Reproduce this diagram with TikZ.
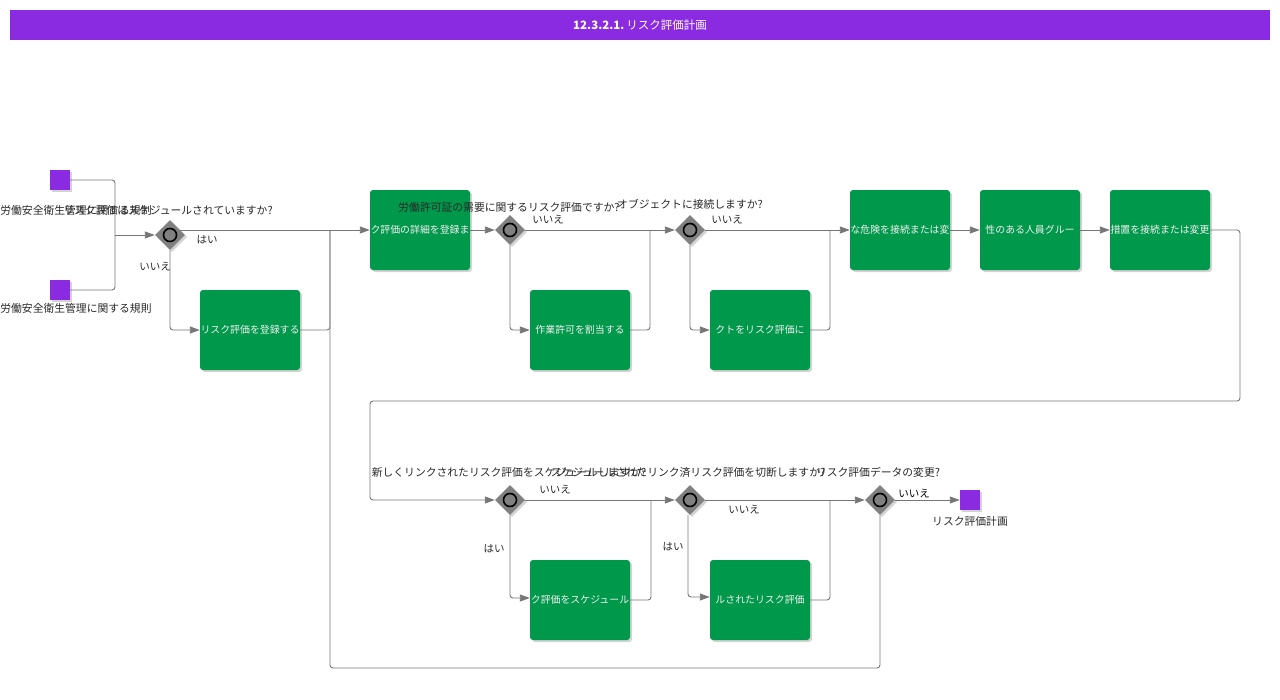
\documentclass[tikz,border=0pt]{standalone}
\usepackage{fontspec}
\setmainfont{Noto Sans CJK JP}
\usetikzlibrary{shapes.geometric,shadows,arrows.meta}

\definecolor{flowpurple}{RGB}{138,43,226}
\definecolor{taskgreen}{RGB}{0,152,74}
\definecolor{linegray}{RGB}{118,118,118}
\definecolor{labelgray}{RGB}{40,40,40}

\tikzset{
  softshadow/.style={drop shadow={shadow xshift=2pt,shadow yshift=-2pt,opacity=0.35}},
  task/.style={fill=taskgreen, rounded corners=3pt, minimum width=100pt, minimum height=80pt,
    inner sep=0pt, text=white!88!gray, font=\fontsize{9.9}{12}\selectfont, softshadow},
  evt/.style={fill=flowpurple, minimum size=20pt, inner sep=0pt, softshadow},
  gate/.style={diamond, fill=gray, minimum size=30pt, inner sep=0pt, softshadow},
  lbl/.style={text=labelgray, font=\fontsize{10.8}{12}\selectfont, inner sep=0pt},
  ans/.style={text=labelgray, font=\fontsize{10.5}{12}\selectfont, inner sep=0pt},
  line/.style={draw=linegray, line width=0.9pt, rounded corners=3pt},
  flow/.style={line, -{Triangle[length=10pt,width=7pt]}}
}

\begin{document}
\begin{tikzpicture}[x=1pt,y=-1pt]
  \useasboundingbox (0,0) rectangle (1280,699);
  \node[fill=flowpurple, minimum width=1260pt, minimum height=30pt, text=white,
    font=\fontsize{11.5}{13}\selectfont] (title) at (640,25) {\textbf{12.3.2.1.}\,リスク評価計画};

  % events
  \node[evt] (s1) at (60,180) {};
  \node[evt] (s2) at (60,290) {};
  \node[evt] (e1) at (970,500) {};
  \node[lbl] (s1l) at (76,210) {労働安全衛生管理に関する規制};
  \node[lbl] (s2l) at (76,308) {労働安全衛生管理に関する規則};
  \node[lbl] (e1l) at (970,521) {リスク評価計画};

  % gateways
  \node[gate] (g1) at (170,235) {};
  \node[gate] (g2) at (510,230) {};
  \node[gate] (g3) at (690,230) {};
  \node[gate] (g4) at (510,500) {};
  \node[gate] (g5) at (690,500) {};
  \node[gate] (g6) at (880,500) {};
  \foreach \g in {g1,g2,g3,g4,g5,g6} \draw[line width=1.6pt, fill=gray] (\g) circle (6.5pt);

  % tasks
  \node[task] (b0) at (250,330) {リスク評価を登録する};
  \node[task] (b1) at (420,230) {ク評価の詳細を登録ま};
  \node[task] (b2) at (580,330) {作業許可を割当する};
  \node[task] (b3) at (900,230) {な危険を接続または変};
  \node[task] (b4) at (760,330) {クトをリスク評価に};
  \node[task] (b5) at (1030,230) {性のある人員グルー};
  \node[task] (b6) at (1160,230) {措置を接続または変更};
  \node[task] (b7) at (580,600) {ク評価をスケジュール};
  \node[task] (b8) at (760,600) {ルされたリスク評価};

  % questions
  \node[lbl] (g1q) at (168,210) {リスク評価はスケジュールされていますか?};
  \node[lbl] (g2q) at (509,207) {労働許可証の需要に関するリスク評価ですか?};
  \node[lbl] (g3q) at (690,204) {オブジェクトに接続しますか?};
  \node[lbl] (g4q) at (509,472) {新しくリンクされたリスク評価をスケジュールしますか?};
  \node[lbl] (g5q) at (688,472) {スケジュールされたリンク済リスク評価を切断しますか?};
  \node[lbl] (g6q) at (878,472) {リスク評価データの変更?};

  % junctions
  \coordinate (j1) at (115,235);
  \coordinate (m1) at (330,230);
  \coordinate (m2) at (650,230);
  \coordinate (m3) at (830,230);
  \coordinate (m4) at (651,500);
  \coordinate (m5) at (830,500);
  \coordinate (r1) at (1240,401);
  \coordinate (r2) at (370,500);
  \coordinate (lp) at (330,668);

  % connectors
  \draw[line] (s1.east) -| (j1);
  \draw[line] (s2.east) -| (j1);
  \draw[flow] (j1) -- (g1.west);
  \draw[flow] ([xshift=-5pt,yshift=5pt]g1.east) -- (b1.west);
  \draw[flow] (g1.south) |- (b0.west);
  \draw[line] (b0.east) -| (m1);
  \draw[line] (g6.south) |- (lp) -- (m1);
  \draw[flow] (b1) -- (g2);
  \draw[flow] (g2) -- (g3);
  \draw[flow] (g2.south) |- (b2.west);
  \draw[line] (b2.east) -| (m2);
  \draw[flow] (g3) -- (b3);
  \draw[flow] (g3.south) |- (b4.west);
  \draw[line] (b4.east) -| (m3);
  \draw[flow] (b3) -- (b5);
  \draw[flow] (b5) -- (b6);
  \draw[flow] (b6.east) -| (r1) -| (r2) -- (g4.west);
  \draw[flow] (g4) -- (g5);
  \draw[flow] (g4.south) |- ([yshift=2pt]b7.west);
  \draw[line] (b7.east) -| (m4);
  \draw[flow] (g5) -- (g6);
  \draw[flow] ([xshift=-2pt]g5.south) |- ([yshift=3pt]b8.west);
  \draw[line] (b8.east) -| (m5);
  \draw[flow] (g6) -- (e1);

  % answers
  \node[ans] (a1y) at (207,240) {はい};
  \node[ans] (a1n) at (155,267) {いいえ};
  \node[ans] (a2n) at (548,220) {いいえ};
  \node[ans] (a3n) at (727,220) {いいえ};
  \node[ans] (a4n) at (555,490) {いいえ};
  \node[ans] (a4y) at (494,549) {はい};
  \node[ans] (a5n) at (744,510) {いいえ};
  \node[ans] (a5y) at (673,547) {はい};
  \node[ans, text=black] (a6n) at (914,494) {いいえ};
\end{tikzpicture}
\end{document}
